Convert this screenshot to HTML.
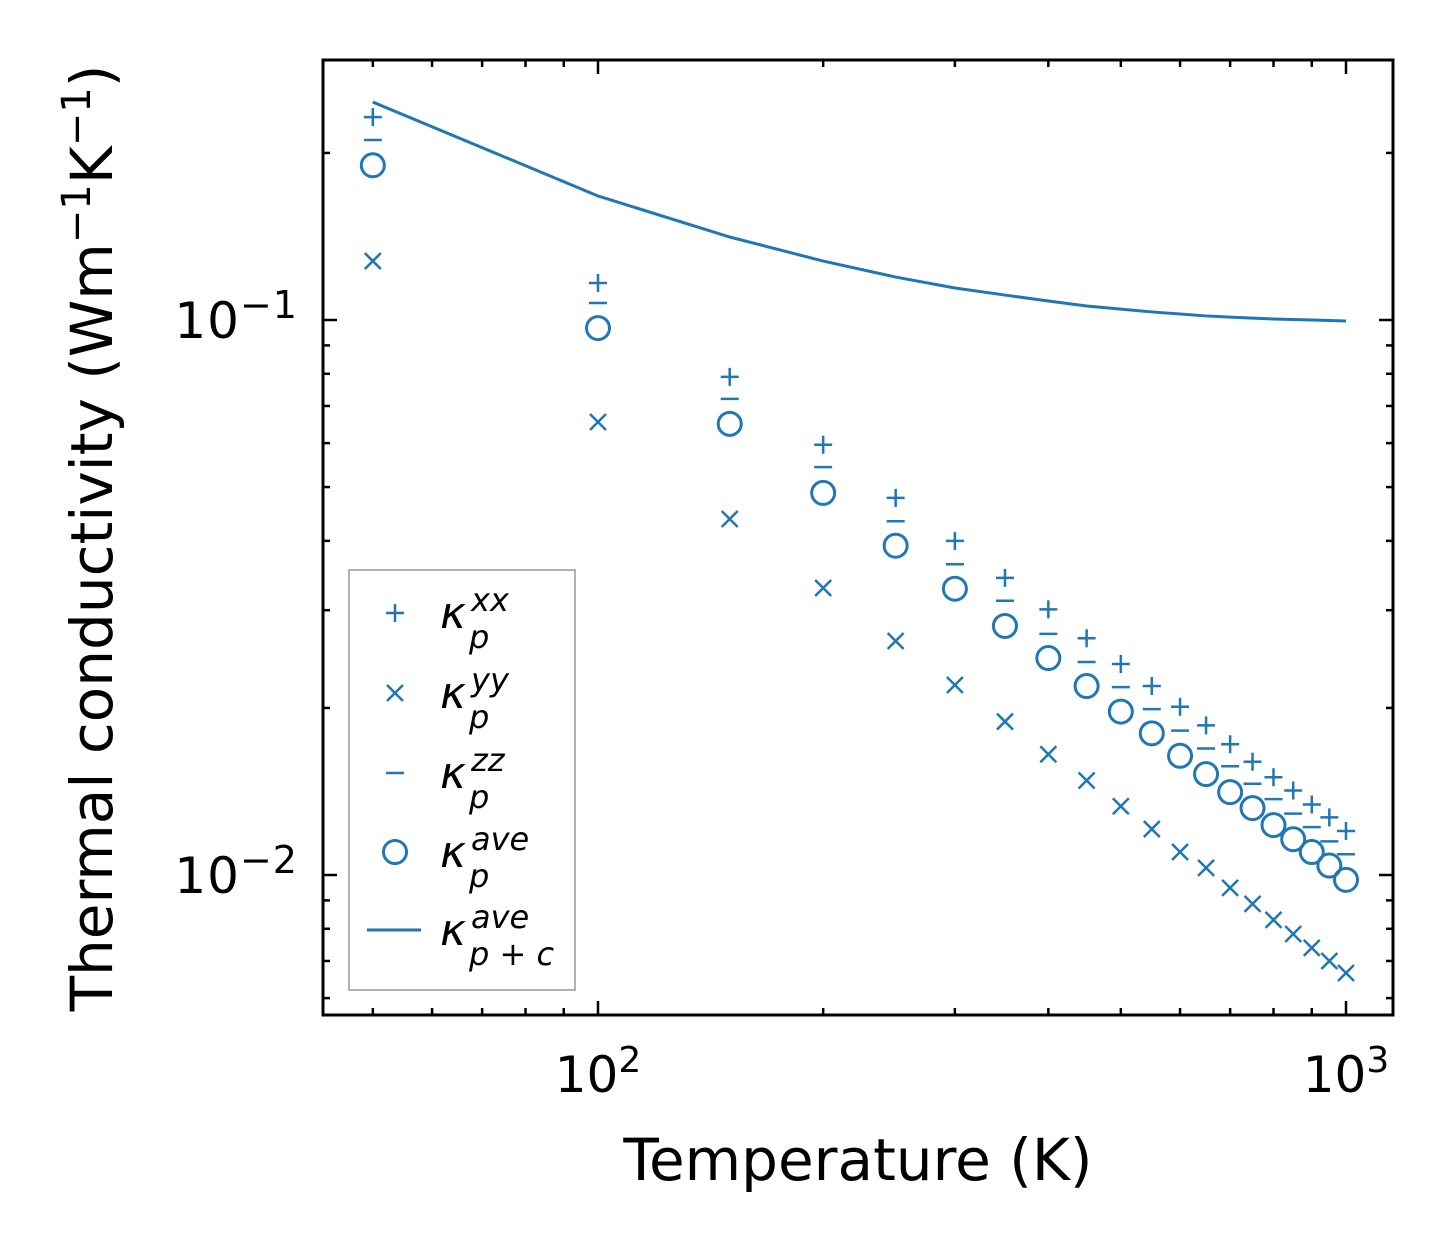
<!DOCTYPE html>
<html><head><meta charset="utf-8"><style>
body{margin:0;background:#fff}
svg text{font-family:"DejaVu Sans","Liberation Sans",sans-serif;fill:#000}
</style></head><body>
<svg id="chart" width="1454" height="1254" viewBox="0 0 1454 1254" xmlns="http://www.w3.org/2000/svg">
<rect width="1454" height="1254" fill="#fff"/>
<g id="ticks"></g>
<g id="marks"></g>
<rect x="323" y="60" width="1070" height="955" fill="none" stroke="#000" stroke-width="3"/>
<text x="598" y="1092" font-size="50" text-anchor="middle">10<tspan dy="-20" font-size="36">2</tspan></text>
<text x="1346" y="1092" font-size="50" text-anchor="middle">10<tspan dy="-20" font-size="36">3</tspan></text>
<text x="298" y="338" font-size="50" text-anchor="end" letter-spacing="1">10<tspan dy="-20" font-size="38">−1</tspan></text>
<text x="298" y="893" font-size="50" text-anchor="end" letter-spacing="1">10<tspan dy="-20" font-size="38">−2</tspan></text>
<text x="858" y="1180" font-size="58" text-anchor="middle">Temperature (K)</text>
<text transform="translate(112,538) rotate(-90)" font-size="58" text-anchor="middle">Thermal conductivity (Wm<tspan dy="-22" font-size="40">−1</tspan><tspan dy="22">K</tspan><tspan dy="-22" font-size="40">−1</tspan><tspan dy="22">)</tspan></text>
<g>
<rect x="349" y="570" width="226" height="420" fill="#fff" stroke="#999" stroke-width="1.5"/>
<g id="legend-items"></g>
</g>
</svg>
<script>
const temps=[50,100,150,200,250,300,350,400,450,500,550,600,650,700,750,800,850,900,950,1000];
const kxx=[0.232,0.1166,0.0790,0.0596,0.0478,0.0400,0.0343,0.0301,0.0267,0.0240,0.0219,0.0201,0.0186,0.0172,0.0160,0.0150,0.0142,0.0134,0.0127,0.0120];
const kyy=[0.1277,0.0655,0.0438,0.0329,0.0264,0.0220,0.0189,0.0165,0.0148,0.0133,0.0121,0.0110,0.0103,0.00948,0.00887,0.00830,0.00783,0.00739,0.00700,0.00666];
const kzz=[0.211,0.1073,0.0721,0.0543,0.0434,0.0363,0.0312,0.0272,0.0242,0.0218,0.0199,0.0182,0.0169,0.0157,0.0146,0.0137,0.0129,0.0122,0.0115,0.0109];
const kave=[0.190,0.0967,0.0650,0.0488,0.0392,0.0328,0.0281,0.0246,0.0219,0.0197,0.0180,0.0164,0.0152,0.0141,0.0132,0.0123,0.0116,0.0110,0.0104,0.0098];
const kpc=[0.247,0.1673,0.1411,0.1277,0.1195,0.1142,0.1109,0.1082,0.1060,0.1046,0.1034,0.1025,0.1017,0.1012,0.1008,0.1004,0.1002,0.1000,0.0998,0.0996];
const C='#1f77b4',NS='http://www.w3.org/2000/svg';
const x=v=>598+(Math.log10(v)-2)*748;
const y=v=>320-(Math.log10(v)+1)*555;
function mk(tag,attrs,parent){const e=document.createElementNS(NS,tag);for(const k in attrs)e.setAttribute(k,attrs[k]);parent.appendChild(e);return e;}
const T=document.getElementById('ticks');
function tick(x1,y1,x2,y2){const l=mk('line',{x1,y1,x2,y2,stroke:'#000','stroke-width':2.5},T);

}
for(let d=1;d<=3;d++)for(let m=1;m<10;m++){const v=m*Math.pow(10,d);const px=x(v);if(px<323||px>1393)continue;const L=m===1?14:7;tick(px,1015,px,1015-L);tick(px,60,px,60+L);}
for(let d=-3;d<=-1;d++)for(let m=1;m<10;m++){const v=m*Math.pow(10,d);const py=y(v);if(py<60||py>1015)continue;const L=m===1?14:7;tick(323,py,323+L,py);tick(1393,py,1393-L,py);}
const M=document.getElementById('marks');
function plus(cx,cy,s,g){mk('path',{d:`M${cx-s} ${cy}H${cx+s}M${cx} ${cy-s}V${cy+s}`,stroke:C,'stroke-width':2.5,fill:'none'},g);}
function cross(cx,cy,s,g){mk('path',{d:`M${cx-s} ${cy-s}L${cx+s} ${cy+s}M${cx-s} ${cy+s}L${cx+s} ${cy-s}`,stroke:C,'stroke-width':2.5,fill:'none'},g);}
function minus(cx,cy,s,g){mk('path',{d:`M${cx-s} ${cy}H${cx+s}`,stroke:C,'stroke-width':2.5,fill:'none'},g);}
function circ(cx,cy,g){mk('circle',{cx,cy,r:11.5,stroke:C,'stroke-width':3,fill:'none'},g);}
const line=mk('polyline',{points:temps.map((t,i)=>x(t)+','+y(kpc[i])).join(' '),stroke:C,'stroke-width':3,fill:'none'},M);


temps.forEach((t,i)=>{const px=x(t);
const g=mk('g',{},M);


plus(px,y(kxx[i]),9,g);cross(px,y(kyy[i]),8,g);minus(px,y(kzz[i]),9,g);circ(px,y(kave[i]),g);});
const LI=document.getElementById('legend-items');
const leg=[['xx','p',613,'plus'],['yy','p',693,'cross'],['zz','p',773,'minus'],['ave','p',852,'circ'],['ave','p + c',930,'line']];
leg.forEach(([sup,sub,ly,type])=>{const g=mk('g',{},LI);


if(type==='plus')plus(395,ly,9,g);else if(type==='cross')cross(395,ly,8,g);else if(type==='minus')minus(395,ly,9,g);else if(type==='circ')circ(395,ly,g);else mk('line',{x1:367,y1:ly,x2:421,y2:ly,stroke:C,'stroke-width':3},g);
const t=mk('text',{x:440,y:ly+15,'font-size':44,'font-style':'italic'},g);
t.innerHTML=`κ<tspan font-size="32" x="471" dy="-17">${sup}</tspan><tspan font-size="32" x="469" dy="37">${sub}</tspan>`;});
</script>
</body></html>
